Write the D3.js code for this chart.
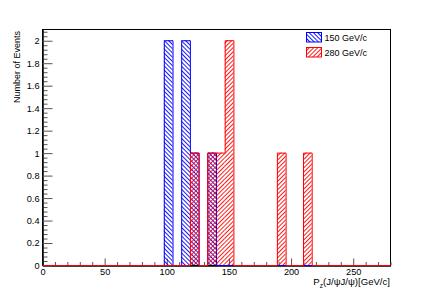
<!DOCTYPE html>
<html>
<head>
<meta charset="utf-8">
<script src="https://cdn.jsdelivr.net/npm/d3@7"></script>
<style>
  html, body { margin: 0; padding: 0; background: #fff; }
  svg text { font-family: "Liberation Sans", Arial, Helvetica, sans-serif; fill: #000; }
</style>
</head>
<body>
<svg id="chart" width="433" height="295"></svg>
<script>
// ---- data ----
const binWidth = 7;                 // GeV/c per bin (40 bins over 0..280)
const xDomain = [0, 280];
const yDomain = [0, 2.1];
const series = ["150 GeV/c", "280 GeV/c"];
const blueBinLow = [98, 112, 119, 133];
const blueCounts = [2, 2, 1, 1];
const redBinLow = [119, 133, 140, 147, 189, 210];
const redCounts = [1, 1, 1, 2, 1, 1];
const xTicksMajor = [0, 50, 100, 150, 200, 250];
const yTicksMajor = [0, 0.2, 0.4, 0.6, 0.8, 1, 1.2, 1.4, 1.6, 1.8, 2];

// ---- layout ----
const m = { left: 42, right: 390, top: 29, bottom: 265 };
const svg = d3.select("#chart");
const x = d3.scaleLinear().domain(xDomain).range([m.left, m.right]);
const y = d3.scaleLinear().domain(yDomain).range([m.bottom, m.top]);

// hatch patterns (rotated stripes)
const defs = svg.append("defs");
function hatch(id, color, angle) {
  const p = defs.append("pattern").attr("id", id)
    .attr("patternUnits", "userSpaceOnUse").attr("width", 3).attr("height", 3)
    .attr("patternTransform", `rotate(${angle})`);
  p.append("rect").attr("x", 0).attr("y", 0).attr("width", 0.9).attr("height", 3)
    .attr("fill", color);
}
hatch("hBlue", "#0000ff", -45);
hatch("hRed", "#ff0000", 45);

// frame
svg.append("rect").attr("x", m.left + 0.5).attr("y", m.top + 0.5)
  .attr("width", m.right - m.left).attr("height", m.bottom - m.top)
  .attr("fill", "none").attr("stroke", "#000").attr("stroke-width", 1);

// axes
const tickColor = "#555";
const xMinor = d3.range(0, 281, 10).filter(v => v % 50 !== 0);
const yMinor = d3.range(0, 2.101, 0.04).filter(v => Math.abs(v / 0.2 - Math.round(v / 0.2)) > 1e-6);

const gx = svg.append("g").attr("transform", `translate(0.5,${m.bottom + 0.5})`);
gx.call(d3.axisBottom(x).tickValues(xMinor).tickFormat("").tickSizeInner(-3.5).tickSizeOuter(0));
gx.selectAll(".tick line").attr("stroke", tickColor);
const gx2 = svg.append("g").attr("transform", `translate(0.5,${m.bottom + 0.5})`);
gx2.call(d3.axisBottom(x).tickValues(xTicksMajor).tickFormat(d3.format("d")).tickSizeInner(-7).tickSizeOuter(0).tickPadding(3));
gx2.selectAll(".tick line").attr("stroke", tickColor);
gx2.selectAll(".tick text").attr("font-size", "9.2px").attr("font-family", null);

const gy = svg.append("g").attr("transform", `translate(${m.left + 0.5},0.5)`);
gy.call(d3.axisLeft(y).tickValues(yMinor).tickFormat("").tickSizeInner(-5).tickSizeOuter(0));
gy.selectAll(".tick line").attr("stroke", tickColor);
const gy2 = svg.append("g").attr("transform", `translate(${m.left + 0.5},0.5)`);
gy2.call(d3.axisLeft(y).tickValues(yTicksMajor).tickFormat(d3.format("~g")).tickSizeInner(-10).tickSizeOuter(0).tickPadding(3));
gy2.selectAll(".tick line").attr("stroke", tickColor);
gy2.selectAll(".tick text").attr("font-size", "9.2px").attr("font-family", null);
svg.selectAll(".domain").attr("stroke", "#000");

// histograms
function drawHist(lows, counts, color, patId) {
  const g = svg.append("g");
  g.selectAll("rect").data(lows.map((l, i) => ({ l, c: counts[i] }))).join("rect")
    .attr("x", d => x(d.l)).attr("y", d => y(d.c))
    .attr("width", d => x(d.l + binWidth) - x(d.l))
    .attr("height", d => y(0) - y(d.c))
    .attr("fill", `url(#${patId})`);
  const nb = Math.round((xDomain[1] - xDomain[0]) / binWidth);
  const vals = d3.range(nb).map(i => {
    const lo = xDomain[0] + i * binWidth;
    const k = lows.indexOf(lo);
    return k >= 0 ? counts[k] : 0;
  });
  const pts = [[x(xDomain[0]), y(0)]];
  vals.forEach((v, i) => {
    const lo = xDomain[0] + i * binWidth;
    pts.push([x(lo), y(v)]);
    pts.push([x(lo + binWidth), y(v)]);
  });
  pts.push([x(xDomain[1]), y(0)]);
  g.append("path").attr("transform", "translate(0.5,0.5)").attr("d", d3.line()(pts))
    .attr("fill", "none").attr("stroke", color).attr("stroke-width", 1);
}
drawHist(blueBinLow, blueCounts, "#0000ff", "hBlue");
drawHist(redBinLow, redCounts, "#ff0000", "hRed");

// axis titles
const xt = svg.append("text").attr("x", m.right).attr("y", 285)
  .attr("text-anchor", "end").attr("font-size", "9.6px");
xt.append("tspan").text("P");
xt.append("tspan").attr("dy", 2.5).attr("font-size", "6.5px").text("z");
xt.append("tspan").attr("dy", -2.5).text("(J/ψJ/ψ)[GeV/c]");

svg.append("text").attr("transform", `translate(19.5,31) rotate(-90)`)
  .attr("text-anchor", "end").attr("font-size", "9px").text("Number of Events");

// legend
const leg = [
  { name: series[0], color: "#0000ff", pat: "hBlue", y: 32 },
  { name: series[1], color: "#ff0000", pat: "hRed", y: 47 }
];
const lg = svg.append("g");
leg.forEach(d => {
  lg.append("rect").attr("x", 306.5).attr("y", d.y + 0.5).attr("width", 15).attr("height", 9.5)
    .attr("fill", `url(#${d.pat})`).attr("stroke", d.color).attr("stroke-width", 1);
  lg.append("text").attr("x", 324.5).attr("y", d.y + 8.5).attr("font-size", "9px").text(d.name);
});
</script>
</body>
</html>
